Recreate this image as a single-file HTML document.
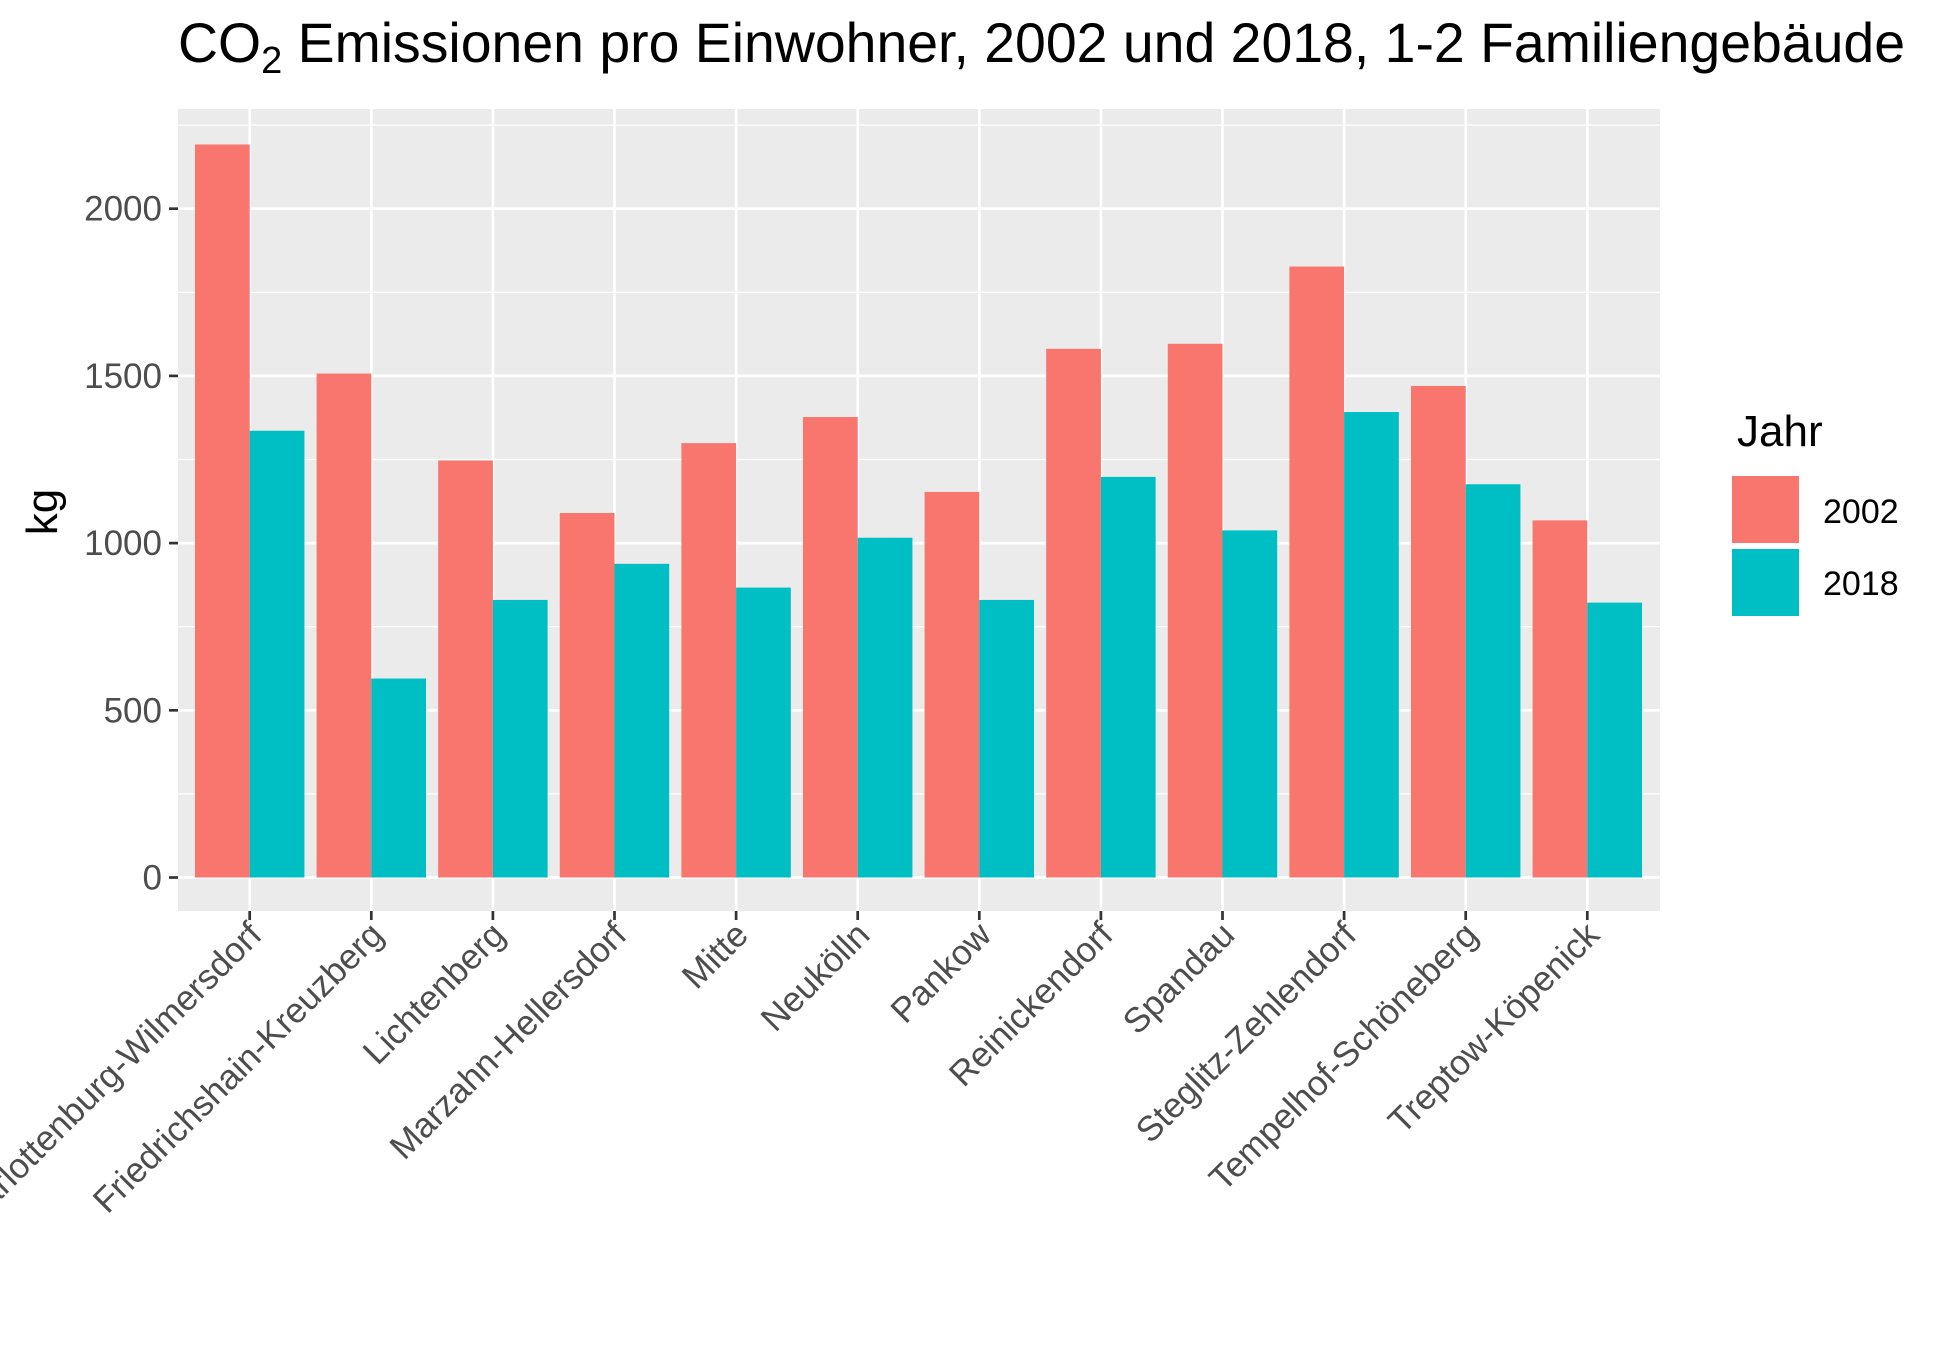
<!DOCTYPE html>
<html><head><meta charset="utf-8"><style>
html,body{margin:0;padding:0;background:#fff;}
svg{display:block;font-family:"Liberation Sans",sans-serif;}
</style></head><body>
<svg id="chart" width="1950" height="1349" viewBox="0 0 1950 1349">
<text x="178" y="62" font-size="55.4" fill="#000">CO<tspan font-size="38" dy="11">2</tspan><tspan dy="-11"> Emissionen pro Einwohner, 2002 und 2018, 1-2 Familiengebäude</tspan></text>
<rect x="178" y="109" width="1482" height="802" fill="#EBEBEB"/>
<g id="grid"></g><g id="bars"></g><g id="axes"></g>
<text transform="translate(57,512) rotate(-90)" text-anchor="middle" font-size="44" fill="#000">kg</text>
<text x="1737" y="446" font-size="44" fill="#000">Jahr</text>
<rect x="1732" y="476" width="67" height="67" fill="#F8766D"/>
<text x="1823" y="523" font-size="34" fill="#000">2002</text>
<rect x="1732" y="549" width="67" height="67" fill="#00BFC4"/>
<text x="1823" y="595" font-size="34" fill="#000">2018</text>
</svg>
<script>
const categories=["Charlottenburg-Wilmersdorf","Friedrichshain-Kreuzberg","Lichtenberg","Marzahn-Hellersdorf","Mitte","Neukölln","Pankow","Reinickendorf","Spandau","Steglitz-Zehlendorf","Tempelhof-Schöneberg","Treptow-Köpenick"];
const values2002=[2192,1507,1247,1090,1299,1377,1153,1581,1596,1827,1470,1068];
const values2018=[1336,595,830,938,867,1016,830,1198,1038,1392,1176,822];
const yTicks=[0,500,1000,1500,2000];
const yMinor=[250,750,1250,1750,2250];
const NS="http://www.w3.org/2000/svg";
const pL=178,pR=1660,pT=109,pB=911;
function y(v){return 877.5-v*0.3344;}
function x(i){return 249.7+i*121.6;}
const bw=121.6*0.45;
function mk(tag,attrs,parent){const e=document.createElementNS(NS,tag);for(const k in attrs)e.setAttribute(k,attrs[k]);parent.appendChild(e);return e;}
const grid=document.getElementById('grid'),bars=document.getElementById('bars'),axes=document.getElementById('axes');
yMinor.forEach(v=>{if(y(v)<pT)return;const l=mk('line',{x1:pL,x2:pR,y1:y(v),y2:y(v),stroke:'#fff','stroke-width':1.3},grid);

});
yTicks.forEach(v=>{const l=mk('line',{x1:pL,x2:pR,y1:y(v),y2:y(v),stroke:'#fff','stroke-width':2.7},grid);


const t=mk('line',{x1:169,x2:178,y1:y(v),y2:y(v),stroke:'#333','stroke-width':2.7},axes);


const tx=mk('text',{x:162,y:y(v)+12,'text-anchor':'end','font-size':35,fill:'#4D4D4D'},axes);tx.textContent=v;

});
categories.forEach((c,i)=>{const cx=x(i);
const g=mk('line',{x1:cx,x2:cx,y1:pT,y2:pB,stroke:'#fff','stroke-width':2.7},grid);


const b1=mk('rect',{x:cx-bw,y:y(values2002[i]),width:bw,height:y(0)-y(values2002[i]),fill:'#F8766D'},bars);


const b2=mk('rect',{x:cx,y:y(values2018[i]),width:bw,height:y(0)-y(values2018[i]),fill:'#00BFC4'},bars);


const t=mk('line',{x1:cx,x2:cx,y1:pB,y2:pB+9,stroke:'#333','stroke-width':2.7},axes);


const tx=mk('text',{transform:`translate(${cx+14},${pB+26}) rotate(-45)`,'text-anchor':'end','font-size':35,fill:'#4D4D4D'},axes);tx.textContent=c;

});
</script>
</body></html>
